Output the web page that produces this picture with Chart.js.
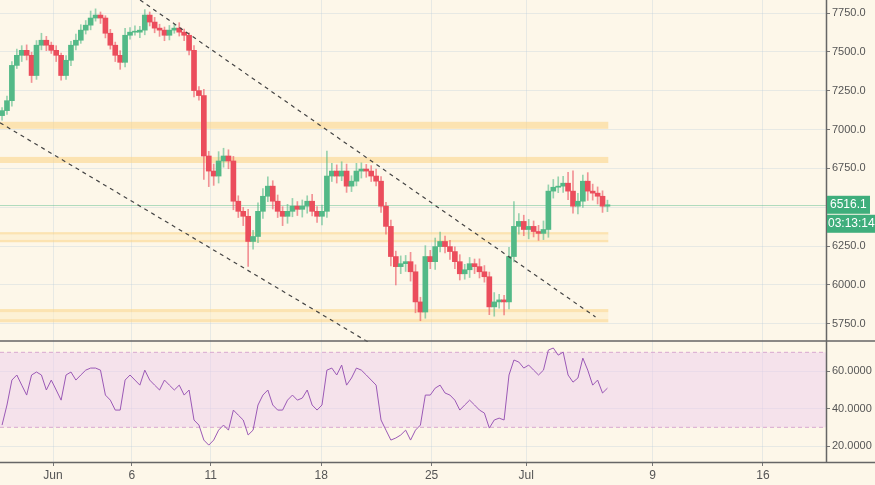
<!DOCTYPE html>
<html>
<head>
<meta charset="utf-8">
<script src="https://cdn.jsdelivr.net/npm/chart.js@4.4.1/dist/chart.umd.min.js"></script>
<style>
  body { margin: 0; background: #fdf7e9; font-family: "Liberation Sans", Arial, sans-serif; }
  #top { position: absolute; left: 0; top: 0; width: 875px; height: 342px; }
  #bottom { position: absolute; left: 0; top: 342px; width: 875px; height: 143px; }
</style>
</head>
<body>
<div id="top"><canvas id="priceChart"></canvas></div>
<div id="bottom"><canvas id="rsiChart"></canvas></div>
<script>
// days counted from Jun 1 (= 0); one candle every ~7.5h
const startDay = -3.23;
const stepDay = 0.312;

const closes = [
  7122,7186,7413,7478,7510,7478,7348,7543,7575,7543,
  7510,7478,7348,7446,7543,7575,7640,7672,7718,7737,
  7718,7620,7543,7478,7433,7607,7627,7627,7640,7737,
  7692,7653,7640,7607,7640,7653,7627,7607,7510,7251,
  7219,6830,6733,6701,6798,6830,6798,6539,6474,6442,
  6280,6312,6474,6571,6636,6539,6474,6442,6474,6507,
  6487,6507,6539,6474,6442,6474,6701,6733,6701,6733,
  6636,6668,6733,6746,6733,6701,6668,6507,6377,6183,
  6118,6137,6150,6085,5891,5826,6183,6150,6247,6280,
  6247,6215,6150,6072,6098,6137,6118,6085,6053,5859,
  5891,5904,5891,6183,6377,6409,6357,6377,6344,6332,
  6357,6604,6629,6636,6655,6604,6507,6539,6668,6604,
  6591,6571,6507,6516
];
const firstOpen = 7090;

const wickUp = [
  20,30,25,40,30,35,20,30,45,25, 20,30,15,30,25,40,35,30,45,40,
  20,15,25,20,30,45,30,40,25,35, 20,30,25,20,30,25,35,20,15,30,
  25,40,30,45,60,50,40,30,35,25, 45,40,55,50,60,35,40,30,45,50,
  30,40,35,45,30,40,160,50,40,60, 45,35,50,40,30,35,45,30,25,40,
  35,50,40,60,45,30,70,40,55,60, 35,40,30,45,35,40,30,50,40,30,
  60,35,30,60,160,50,40,45,35,40, 55,40,50,60,45,70,130,50,40,55,
  45,40,35,30
];
const wickDown = [
  30,25,35,20,40,30,45,25,30,35, 20,40,30,25,35,30,20,25,30,20,
  35,30,25,40,45,30,25,20,35,30, 25,30,40,35,30,20,25,35,30,40,
  30,150,100,60,45,40,50,55,40,60, 160,50,40,45,35,50,40,60,45,35,
  40,50,45,30,40,55,40,35,45,30, 40,35,30,45,40,35,30,40,50,60,
  118,45,50,60,70,56,40,45,50,35, 40,50,45,40,35,50,45,40,35,50,
  60,40,84,45,35,50,40,60,35,45, 40,50,45,35,40,55,45,50,40,60,
  45,50,40,35
];

const rsi = [
  31.2,41.9,55.2,57.9,52.5,47.2,57.9,59.5,57.9,49.9,
  55.2,49.9,44.5,57.9,59.5,55.2,57.9,60.5,61.6,61.6,
  60.5,47.2,44.5,39.2,39.2,55.2,57.9,55.2,52.5,60.5,
  55.2,52.5,49.9,55.2,52.5,49.9,52.5,47.2,49.9,33.9,
  31.2,23.2,20.5,23.2,28.5,31.2,28.5,39.2,36.5,33.9,
  25.9,28.5,41.9,47.2,49.9,41.9,39.2,39.2,44.5,47.2,
  44.5,45.6,49.9,41.9,39.2,41.9,60.5,61.6,57.9,63.2,
  52.5,56.3,61.6,60.5,57.9,55.2,52.5,33.9,28.5,23.2,
  24.3,25.9,28.5,23.2,28.5,31.2,47.2,47.2,50.9,52.5,
  48.3,47.2,44.5,39.2,41.9,44.5,41.9,39.2,37.6,29.6,
  33.9,34.9,33.9,57.9,65.9,64.8,61.6,63.2,60.5,57.9,
  60.5,71.2,72.3,68.5,70.1,57.9,54.1,56.3,66.9,60.5,
  52.5,55.2,48.3,50.9
];

const dayTicks = [0, 5, 10, 17, 24, 30, 38, 45];
const dayLabels = ["Jun", "6", "11", "18", "25", "Jul", "9", "16"];
const priceTicks = [5750, 6000, 6250, 6500, 6750, 7000, 7250, 7500, 7750];
const rsiTicks = [20, 40, 60];

// support / resistance zones [low, high]
const zones = [[7005, 7050], [6785, 6824], [6325, 6340], [6275, 6290], [5825, 5845], [5760, 5780]];
const zoneFills = [[6290, 6325], [5780, 5825]];
const zoneEnd = 35.2;
// trend lines [[day, price], [day, price]]
const upperTrend = [[5.52, 7834], [34.39, 5794]];
const lowerTrend = [[-3.36, 7044], [19.99, 5632]];

const lastPrice = 6516.1;
const countdown = "03:13:14";

const xMin = -3.36, xMax = 49.0;
const up = "#53b987", down = "#eb4d5c";
const upWick = "rgba(83,185,135,0.6)", downWick = "rgba(235,77,92,0.6)";
const gridCol = "rgba(190,205,220,0.35)";

const days = closes.map((c, i) => startDay + i * stepDay);
const opens = closes.map((c, i) => i === 0 ? firstOpen : closes[i - 1]);
const bodies = closes.map((c, i) => ({ x: days[i], y: [opens[i], c] }));
const wicks = closes.map((c, i) => ({
  x: days[i],
  y: [Math.min(opens[i], c) - wickDown[i], Math.max(opens[i], c) + wickUp[i]]
}));
const colors = closes.map((c, i) => c >= opens[i] ? up : down);
const wickColors = closes.map((c, i) => c >= opens[i] ? upWick : downWick);

const bgPlugin = {
  id: "bg",
  beforeDraw(chart) {
    const ctx = chart.ctx;
    ctx.save();
    ctx.fillStyle = "#fdf7e9";
    ctx.fillRect(0, 0, chart.width, chart.height);
    ctx.restore();
  }
};

const noPad = s => { s.paddingTop = 0; s.paddingBottom = 0; s.paddingLeft = 0; s.paddingRight = 0; };

const xScale = (showLabels) => ({
  type: "linear", min: xMin, max: xMax, offset: false,
  afterBuildTicks: s => { s.ticks = dayTicks.map(v => ({ value: v })); },
  ticks: {
    display: showLabels, color: "#555", font: { size: 12 }, padding: 2,
    callback: v => dayLabels[dayTicks.indexOf(v)]
  },
  grid: { color: gridCol, tickLength: 4, drawTicks: showLabels, tickColor: "#777", offset: false },
  border: { display: false },
  afterFit: s => { s.height = showLabels ? 23 : 0; noPad(s); }
});

const yFont = { size: 11, family: "'Liberation Sans', Arial" };

const zonesPlugin = {
  id: "zones",
  beforeDatasetsDraw(chart) {
    const { ctx, chartArea: a, scales: { x, y } } = chart;
    ctx.save();
    const x0 = x.getPixelForValue(xMin), x1 = x.getPixelForValue(zoneEnd);
    ctx.fillStyle = "rgba(253,236,200,0.6)";
    zoneFills.forEach(z => {
      const t = y.getPixelForValue(z[1]), b = y.getPixelForValue(z[0]);
      ctx.fillRect(x0, t, x1 - x0, b - t);
    });
    ctx.fillStyle = "rgba(252,214,140,0.6)";
    zones.forEach(z => {
      const t = y.getPixelForValue(z[1]), b = y.getPixelForValue(z[0]);
      ctx.fillRect(x0, t, x1 - x0, b - t);
    });
    const py = Math.round(y.getPixelForValue(lastPrice)) + 0.5;
    ctx.strokeStyle = "rgba(83,185,135,0.45)";
    ctx.lineWidth = 1;
    ctx.beginPath(); ctx.moveTo(a.left, py); ctx.lineTo(a.right, py); ctx.stroke();
    ctx.restore();
  },
  afterDraw(chart) {
    const { ctx, chartArea: a, scales: { y } } = chart;
    ctx.save();
    ctx.strokeStyle = "#666"; ctx.lineWidth = 1.5;
    ctx.beginPath();
    ctx.moveTo(a.right + 0.5, 0); ctx.lineTo(a.right + 0.5, a.bottom);
    ctx.moveTo(0, a.bottom - 1); ctx.lineTo(chart.width, a.bottom - 1);
    ctx.stroke();
    const py = y.getPixelForValue(lastPrice);
    ctx.fillStyle = "#3fae7c";
    ctx.fillRect(a.right + 1, py - 9, 43, 18);
    ctx.fillRect(a.right + 1, py + 10, 48, 18);
    ctx.fillStyle = "#fff"; ctx.font = "12px 'Liberation Sans', Arial"; ctx.textBaseline = "middle";
    ctx.fillText(lastPrice.toFixed(1), a.right + 4, py);
    ctx.fillText(countdown, a.right + 2, py + 19);
    ctx.restore();
  }
};

const trendDs = (pts) => ({
  type: "line", data: pts.map(p => ({ x: p[0], y: p[1] })),
  borderColor: "#444", borderWidth: 1.2, borderDash: [4, 4], pointRadius: 0, order: 0
});

new Chart("priceChart", {
  type: "bar",
  data: {
    datasets: [
      { data: wicks, backgroundColor: wickColors, barThickness: 1, grouped: false, order: 2 },
      { data: bodies, backgroundColor: colors, barThickness: 5, grouped: false, order: 1, minBarLength: 1 },
      trendDs(upperTrend),
      trendDs(lowerTrend)
    ]
  },
  options: {
    responsive: true, maintainAspectRatio: false, animation: false,
    layout: { padding: 0 },
    plugins: { legend: { display: false }, tooltip: { enabled: false } },
    scales: {
      x: xScale(false),
      y: {
        position: "right", min: 5633, max: 7834,
        afterBuildTicks: s => { s.ticks = priceTicks.map(v => ({ value: v })); },
        ticks: { color: "#555", font: yFont, padding: 2, callback: v => v.toFixed(1) },
        grid: { color: gridCol, tickLength: 4, tickColor: "#777" },
        border: { display: false },
        afterFit: s => { s.width = 49; noPad(s); }
      }
    }
  },
  plugins: [bgPlugin, zonesPlugin]
});

const rsiPlugin = {
  id: "rsiBand",
  beforeDatasetsDraw(chart) {
    const { ctx, chartArea: a, scales: { y } } = chart;
    const t = y.getPixelForValue(70), b = y.getPixelForValue(30);
    ctx.save();
    ctx.fillStyle = "rgba(238,206,238,0.5)";
    ctx.fillRect(a.left, t, a.right - a.left, b - t);
    ctx.strokeStyle = "#d8a8d0"; ctx.setLineDash([4, 3]); ctx.lineWidth = 1;
    ctx.beginPath();
    ctx.moveTo(a.left, t); ctx.lineTo(a.right, t);
    ctx.moveTo(a.left, b); ctx.lineTo(a.right, b);
    ctx.stroke();
    ctx.restore();
  },
  afterDraw(chart) {
    const { ctx, chartArea: a } = chart;
    ctx.save();
    ctx.strokeStyle = "#666"; ctx.lineWidth = 1.5;
    ctx.beginPath();
    ctx.moveTo(a.right + 0.5, 0); ctx.lineTo(a.right + 0.5, a.bottom);
    ctx.moveTo(0, a.bottom + 0.5); ctx.lineTo(chart.width, a.bottom + 0.5);
    ctx.stroke();
    ctx.restore();
  }
};

new Chart("rsiChart", {
  type: "line",
  data: {
    datasets: [{
      data: rsi.map((v, i) => ({ x: days[i], y: v })),
      borderColor: "#9b59b6", borderWidth: 1, pointRadius: 0, tension: 0
    }]
  },
  options: {
    responsive: true, maintainAspectRatio: false, animation: false,
    layout: { padding: 0 },
    plugins: { legend: { display: false }, tooltip: { enabled: false } },
    scales: {
      x: xScale(true),
      y: {
        position: "right", min: 11.5, max: 75.5,
        afterBuildTicks: s => { s.ticks = rsiTicks.map(v => ({ value: v })); },
        ticks: { color: "#555", font: yFont, padding: 2, callback: v => v.toFixed(4) },
        grid: { color: gridCol, tickLength: 4, tickColor: "#777" },
        border: { display: false },
        afterFit: s => { s.width = 49; noPad(s); }
      }
    }
  },
  plugins: [bgPlugin, rsiPlugin]
});
</script>
</body>
</html>
